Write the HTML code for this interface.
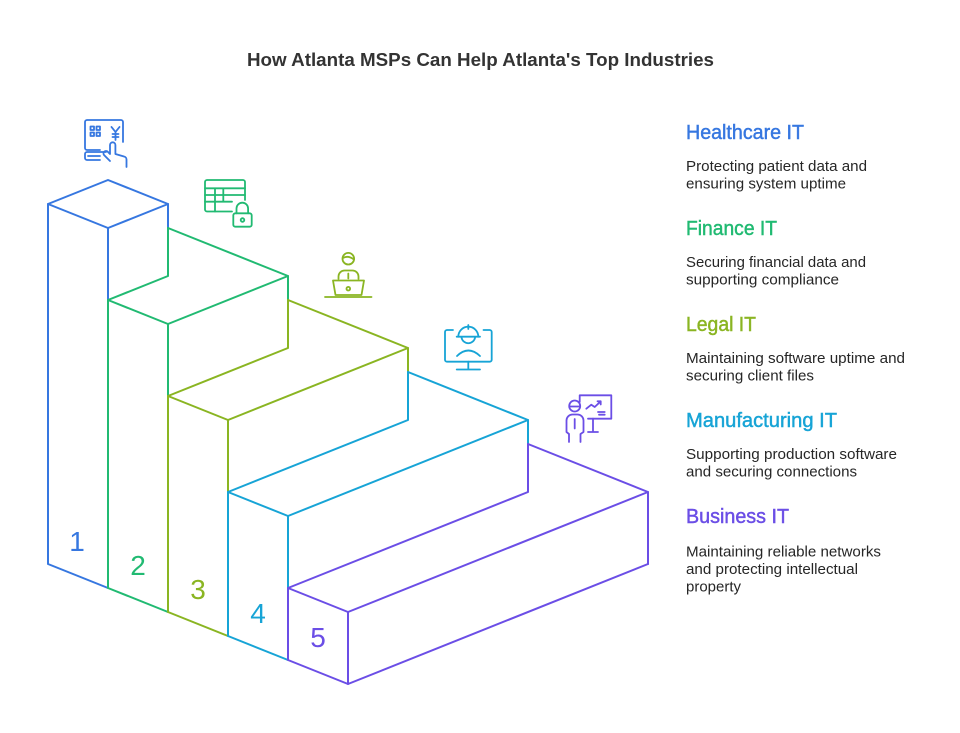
<!DOCTYPE html>
<html>
<head>
<meta charset="utf-8">
<style>
  html,body{margin:0;padding:0;background:#ffffff;}
  svg{display:block;}
  text{font-family:"Liberation Sans",Arial,sans-serif;}
</style>
</head>
<body>
<svg width="960" height="733" viewBox="0 0 960 733" xmlns="http://www.w3.org/2000/svg">
  <rect x="0" y="0" width="960" height="733" fill="#ffffff"/>

  <!-- Title -->
  <text x="247" y="66" font-size="18" font-weight="bold" fill="#333333" textLength="467" lengthAdjust="spacingAndGlyphs">How Atlanta MSPs Can Help Atlanta's Top Industries</text>

  <!-- Staircase -->
  <g fill="none" stroke-width="2" stroke-linejoin="round" stroke-linecap="round">
    <!-- Blue column 1 -->
    <g stroke="#3677E0">
      <polygon points="48,204 108,180 168,204 108,228"/>
      <polyline points="48,204 48,564 108,588"/>
      <line x1="108" y1="228" x2="108" y2="300"/>
      <line x1="168" y1="204" x2="168" y2="228"/>
    </g>
    <!-- Green step 2 -->
    <g stroke="#21BA72">
      <polyline points="168,228 288,276 288,300"/>
      <polyline points="168,228 168,276 108,300"/>
      <polyline points="108,300 168,324 288,276"/>
      <polyline points="108,300 108,588 168,612"/>
      <line x1="168" y1="324" x2="168" y2="396"/>
    </g>
    <!-- Olive step 3 -->
    <g stroke="#8AB522">
      <polyline points="288,300 408,348 408,372"/>
      <polyline points="288,300 288,348 168,396"/>
      <polyline points="168,396 228,420 408,348"/>
      <polyline points="168,396 168,612 228,636"/>
      <line x1="228" y1="420" x2="228" y2="492"/>
    </g>
    <!-- Cyan step 4 -->
    <g stroke="#17A4D6">
      <polyline points="408,372 528,420 528,444"/>
      <polyline points="408,372 408,420 228,492"/>
      <polyline points="228,492 288,516 528,420"/>
      <polyline points="228,492 228,636 288,660"/>
      <line x1="288" y1="516" x2="288" y2="588"/>
    </g>
    <!-- Purple step 5 -->
    <g stroke="#6B4EE6">
      <polyline points="528,444 648,492 648,564"/>
      <polyline points="528,444 528,492 288,588"/>
      <polyline points="288,588 348,612 648,492"/>
      <polyline points="288,588 288,660 348,684"/>
      <polyline points="348,612 348,684 648,564"/>
    </g>
  </g>

  <!-- Step numbers -->
  <g font-size="28" text-anchor="middle">
    <text x="77" y="551" fill="#3677E0">1</text>
    <text x="138" y="575" fill="#21BA72">2</text>
    <text x="198" y="599" fill="#8AB522">3</text>
    <text x="258" y="623" fill="#17A4D6">4</text>
    <text x="318" y="647" fill="#6B4EE6">5</text>
  </g>

  <!-- Icons -->
  <g fill="none" stroke-width="1.8" stroke-linecap="round" stroke-linejoin="round">
    <!-- Healthcare icon (blue) -->
    <g stroke="#3677E0">
      <path d="M100,150 H87 a2,2 0 0 1 -2,-2 V122 a2,2 0 0 1 2,-2 H121 a2,2 0 0 1 2,2 V142"/>
      <rect x="90.5" y="126.5" width="3.5" height="3.5"/>
      <rect x="96.5" y="126.5" width="3.5" height="3.5"/>
      <rect x="90.5" y="132.5" width="3.5" height="3.5"/>
      <rect x="96.5" y="132.5" width="3.5" height="3.5"/>
      <path d="M111.5,127 L115.5,132 L119.5,127 M115.5,132 V140 M112.5,134 H118.5 M112.5,137 H118.5"/>
      <path d="M106,152 H87 a2,2 0 0 0 -2,2 V158 a2,2 0 0 0 2,2 H100 M88,156 H100"/>
      <path d="M110,161 L104,155 a2.5,2.5 0 0 1 3.5,-3.5 L110,154 V145 a2.7,2.7 0 0 1 5.4,0 V154 L124,156.5 a3,3 0 0 1 2.5,3 V167"/>
    </g>
    <!-- Finance icon (green) -->
    <g stroke="#21BA72">
      <path d="M232,211.5 H207 a2,2 0 0 1 -2,-2 V182 a2,2 0 0 1 2,-2 H243 a2,2 0 0 1 2,2 V200"/>
      <path d="M205,188.3 H245 M205,195 H245 M205,201.7 H232 M215,188.3 V211.5 M223.3,188.3 V201.7"/>
      <rect x="233.3" y="213.3" width="18.4" height="13.4" rx="2"/>
      <path d="M236.5,213.3 V208.5 a5.8,5.8 0 0 1 11.6,0 V213.3"/>
      <circle cx="242.5" cy="220" r="1.8"/>
    </g>
    <!-- Legal icon (olive) -->
    <g stroke="#8AB522">
      <circle cx="348.3" cy="258.7" r="5.8"/>
      <path d="M343,258 Q348,255 354,259.5"/>
      <path d="M338.5,279 V276.5 a6,6 0 0 1 6,-6 h8 a6,6 0 0 1 6,6 V279"/>
      <line x1="348.3" y1="273.5" x2="348.3" y2="278.5"/>
      <polygon points="333,280.5 364,280.5 361.5,295 335.5,295"/>
      <line x1="325" y1="297" x2="371.5" y2="297"/>
      <circle cx="348.3" cy="288.7" r="1.8"/>
    </g>
    <!-- Manufacturing icon (cyan) -->
    <g stroke="#17A4D6">
      <path d="M453,330 H447 a2,2 0 0 0 -2,2 V359.7 a2,2 0 0 0 2,2 H489.7 a2,2 0 0 0 2,-2 V332 a2,2 0 0 0 -2,-2 H483.5"/>
      <line x1="468.3" y1="361.7" x2="468.3" y2="368.5"/>
      <line x1="456.7" y1="369.5" x2="480" y2="369.5"/>
      <path d="M458.3,336.7 a10,10 0 0 1 20,0"/>
      <line x1="456.7" y1="336.7" x2="480" y2="336.7"/>
      <line x1="468.3" y1="325" x2="468.3" y2="329"/>
      <path d="M461.5,337.5 a6.9,6.9 0 0 0 13.6,0"/>
      <path d="M457,356 Q468.3,345 480,356"/>
    </g>
    <!-- Business icon (purple) -->
    <g stroke="#6B4EE6">
      <circle cx="574.7" cy="406" r="5.5"/>
      <line x1="569.5" y1="406.5" x2="580" y2="406.5"/>
      <path d="M569,442 V434 L566.5,432 V420.5 a6,6 0 0 1 6,-6 h5 a6,6 0 0 1 6,6 V432 L580.5,434 V442"/>
      <line x1="574.7" y1="419" x2="574.7" y2="428.5"/>
      <path d="M579.7,402 V395.3 H611.3 V418.7 H588"/>
      <line x1="593" y1="418.7" x2="593" y2="431.5"/>
      <line x1="588" y1="432" x2="598" y2="432"/>
      <path d="M586.3,408.7 L591.3,404.7 L594.7,407 L600.7,401.3 M597.5,401.3 H600.7 V404.5"/>
      <path d="M598,412 H604.7 M599,414.7 H604.7"/>
    </g>
  </g>

  <!-- Right side labels -->
  <g>
    <text x="686" y="139" font-size="20" fill="#3677E0" stroke="#3677E0" stroke-width="0.45" textLength="118" lengthAdjust="spacingAndGlyphs">Healthcare IT</text>
    <text x="686" y="171" font-size="15" fill="#262626" textLength="181" lengthAdjust="spacingAndGlyphs">Protecting patient data and</text>
    <text x="686" y="188.5" font-size="15" fill="#262626" textLength="160" lengthAdjust="spacingAndGlyphs">ensuring system uptime</text>

    <text x="686" y="235" font-size="20" fill="#21BA72" stroke="#21BA72" stroke-width="0.45" textLength="91" lengthAdjust="spacingAndGlyphs">Finance IT</text>
    <text x="686" y="267" font-size="15" fill="#262626" textLength="180" lengthAdjust="spacingAndGlyphs">Securing financial data and</text>
    <text x="686" y="284.5" font-size="15" fill="#262626" textLength="153" lengthAdjust="spacingAndGlyphs">supporting compliance</text>

    <text x="686" y="331" font-size="20" fill="#8AB522" stroke="#8AB522" stroke-width="0.45" textLength="70" lengthAdjust="spacingAndGlyphs">Legal IT</text>
    <text x="686" y="363" font-size="15" fill="#262626" textLength="219" lengthAdjust="spacingAndGlyphs">Maintaining software uptime and</text>
    <text x="686" y="380.5" font-size="15" fill="#262626" textLength="128" lengthAdjust="spacingAndGlyphs">securing client files</text>

    <text x="686" y="427" font-size="20" fill="#17A4D6" stroke="#17A4D6" stroke-width="0.45" textLength="151" lengthAdjust="spacingAndGlyphs">Manufacturing IT</text>
    <text x="686" y="459" font-size="15" fill="#262626" textLength="211" lengthAdjust="spacingAndGlyphs">Supporting production software</text>
    <text x="686" y="476.5" font-size="15" fill="#262626" textLength="171" lengthAdjust="spacingAndGlyphs">and securing connections</text>

    <text x="686" y="523" font-size="20" fill="#6B4EE6" stroke="#6B4EE6" stroke-width="0.45" textLength="103" lengthAdjust="spacingAndGlyphs">Business IT</text>
    <text x="686" y="556.5" font-size="15" fill="#262626" textLength="195" lengthAdjust="spacingAndGlyphs">Maintaining reliable networks</text>
    <text x="686" y="574" font-size="15" fill="#262626" textLength="172" lengthAdjust="spacingAndGlyphs">and protecting intellectual</text>
    <text x="686" y="591.5" font-size="15" fill="#262626" textLength="55" lengthAdjust="spacingAndGlyphs">property</text>
  </g>
</svg>
</body>
</html>
